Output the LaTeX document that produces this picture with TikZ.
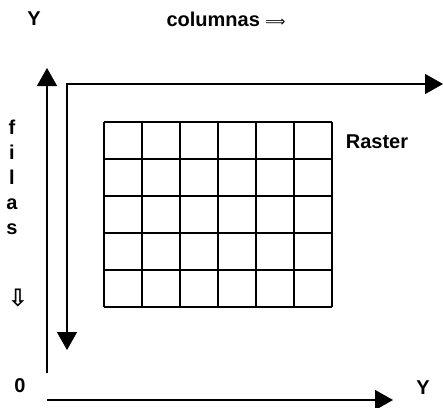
\documentclass[tikz,border=0pt]{standalone}
\usepackage{fontspec}
\setsansfont{Liberation Sans}
\newfontfamily\symfont{DejaVu Sans}
\usetikzlibrary{arrows.meta}
\tikzset{
    rasteraxis/.style={-{Triangle[length=18pt,width=20pt]}, line width=1.5pt},
    rasterframe/.style={{Triangle[length=18pt,width=20pt]}-{Triangle[length=18pt,width=20pt]}, line width=1.5pt},
    rastergrid/.style={line width=1.6pt},
    rasterlabel/.style={font=\sffamily\bfseries\fontsize{20}{25}\selectfont, inner sep=0pt}
}

\begin{document}
\begin{tikzpicture}[x=1pt,y=-1pt]
    \useasboundingbox (0,0) rectangle (443,407);
    % ejes
    \coordinate (origen) at (47,373);
    \coordinate (ytop) at (47,68);
    \coordinate (xstart) at (47,400);
    \coordinate (xend) at (393,400);
    \coordinate (filasend) at (67,350);
    \coordinate (colend) at (443,84);
    \draw[rasteraxis] (origen) -- (ytop);
    \draw[rasteraxis] (xstart) -- (xend);
    \draw[rasterframe] (filasend) |- (colend);

    % raster
    \foreach \c in {0,...,6}
        \draw[rastergrid] (104+38*\c,122) -- (104+38*\c,307);
    \foreach \r in {0,...,5}
        \draw[rastergrid] (104,122+37*\r) -- (332,122+37*\r);

    \node[rasterlabel] (ylabel) at (34,19) {Y};
    \node[rasterlabel] (columnas) at (226,19) {columnas {\symfont\mdseries\fontsize{14}{14}\selectfont ⟹}};
    \node[rasterlabel, align=center] (filas) at (12,177) {f\\i\\l\\a\\s};
    \node[font=\symfont\bfseries\fontsize{24}{24}\selectfont, inner sep=0pt] (filasarrow) at (18,298) {⇩};
    \node[rasterlabel] (cero) at (20,386) {0};
    \node[rasterlabel] (xlabel) at (423,388) {Y};
    \node[rasterlabel] (raster) at (377,142) {Raster};
\end{tikzpicture}
\end{document}
